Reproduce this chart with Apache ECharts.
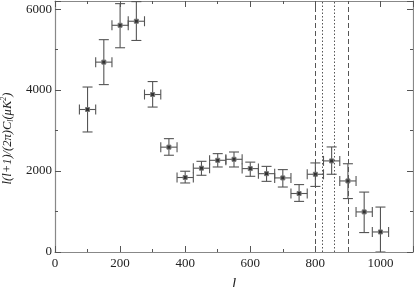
<!DOCTYPE html>
<html>
<head>
<meta charset="utf-8">
<script src="https://cdn.jsdelivr.net/npm/echarts@6/dist/echarts.min.js"></script>
<style>
  html, body { margin: 0; padding: 0; background: #fff; }
  #chart { width: 414px; height: 287px; }
</style>
</head>
<body>
<div id="chart"></div>
<script>
// multipole bins and band powers (uK^2)
var ell = [100, 150, 200, 250, 300, 350, 400, 450, 500, 550, 600, 650, 700, 750, 800, 850, 900, 950, 1000];
var power = [3520, 4690, 5600, 5700, 3890, 2590, 1840, 2070, 2265, 2290, 2060, 1935, 1830, 1445, 1920, 2250, 1755, 990, 495];
var powerLow = [2965, 4135, 5045, 5225, 3580, 2390, 1705, 1895, 2100, 2100, 1870, 1745, 1605, 1250, 1620, 1920, 1320, 480, 0];
var powerHigh = [4075, 5245, 6135, 6185, 4210, 2800, 1995, 2240, 2430, 2470, 2220, 2115, 2035, 1665, 2200, 2595, 2180, 1480, 1110];
var binHalf = [25, 25, 25, 25, 25, 25, 25, 25, 25, 25, 25, 25, 25, 25, 25, 25, 25, 25, 25];
var dashedLines = [800, 901];
var dottedLines = [821, 858];
var xTicks = [0, 200, 400, 600, 800, 1000];
var yTicks = [0, 2000, 4000, 6000];

var chart = echarts.init(document.getElementById('chart'));
var serif = 'Liberation Serif';
var axisGray = '#888';

var points = ell.map(function (l, i) {
  return [l, power[i], powerLow[i], powerHigh[i], binHalf[i]];
});

function errItem(params, api) {
  var x = api.value(0), y = api.value(1);
  var c = api.coord([x, y]);
  var lo = api.coord([x, api.value(2)]);
  var hi = api.coord([x, api.value(3)]);
  var l = api.coord([x - api.value(4), y]);
  var r = api.coord([x + api.value(4), y]);
  var cap = 5;
  var st = { stroke: '#555', lineWidth: 1.1, fill: null };
  return {
    type: 'group',
    children: [
      { type: 'line', shape: { x1: c[0], y1: lo[1], x2: c[0], y2: hi[1] }, style: st },
      { type: 'line', shape: { x1: c[0] - cap, y1: lo[1], x2: c[0] + cap, y2: lo[1] }, style: st },
      { type: 'line', shape: { x1: c[0] - cap, y1: hi[1], x2: c[0] + cap, y2: hi[1] }, style: st },
      { type: 'line', shape: { x1: l[0], y1: c[1], x2: r[0], y2: c[1] }, style: st },
      { type: 'line', shape: { x1: l[0], y1: c[1] - cap, x2: l[0], y2: c[1] + cap }, style: st },
      { type: 'line', shape: { x1: r[0], y1: c[1] - cap, x2: r[0], y2: c[1] + cap }, style: st },
      { type: 'rect', shape: { x: c[0] - 2, y: c[1] - 2, width: 4, height: 4 },
        style: { fill: '#333', stroke: '#777', lineWidth: 1 } }
    ]
  };
}

function vline(v, type) {
  return { xAxis: v, lineStyle: { type: type, color: '#555', width: 1 } };
}

function plain(v) { return String(v); }

var option = {
  animation: false,
  backgroundColor: '#fff',
  grid: { left: 55, right: 1, top: 1, bottom: 35, outerBoundsMode: 'none', containLabel: false },
  xAxis: [{
    type: 'value', min: 0, max: 1100, interval: 200,
    name: 'l', nameLocation: 'middle', nameGap: 25,
    nameTextStyle: { fontFamily: serif, fontStyle: 'italic', fontSize: 15, color: '#222' },
    axisLine: { show: true, onZero: false, lineStyle: { color: axisGray, width: 1.2 } },
    axisTick: { inside: true, length: 6, lineStyle: { color: '#555' } },
    minorTick: { show: true, splitNumber: 2, length: 3, lineStyle: { color: '#555' } },
    splitLine: { show: false },
    axisLabel: { fontFamily: serif, fontSize: 13, color: '#222', margin: 5,
      customValues: xTicks, formatter: plain }
  }, {
    type: 'value', min: 0, max: 1100, interval: 200, position: 'top',
    axisLine: { show: true, onZero: false, lineStyle: { color: axisGray, width: 1.2 } },
    axisTick: { inside: true, length: 6, lineStyle: { color: '#555' } },
    minorTick: { show: true, splitNumber: 2, length: 3, lineStyle: { color: '#555' } },
    splitLine: { show: false },
    axisLabel: { show: false }
  }],
  yAxis: [{
    type: 'value', min: 0, max: 6200, interval: 2000,
    name: '{i|l}(l+1)/(2π)C{s|l}(μK{p|2})',
    nameLocation: 'middle', nameGap: 38, nameRotate: 90,
    nameTextStyle: {
      fontFamily: serif, fontStyle: 'italic', fontSize: 12.5, color: '#222',
      padding: [0, 24, 0, 0],
      rich: {
        i: { fontFamily: serif, fontStyle: 'italic', fontSize: 12.5 },
        s: { fontFamily: serif, fontStyle: 'italic', fontSize: 8, verticalAlign: 'bottom', padding: [5, 0, 0, 0] },
        p: { fontFamily: serif, fontSize: 8, verticalAlign: 'top', padding: [0, 0, 7, 0] }
      }
    },
    axisLine: { show: true, onZero: false, lineStyle: { color: axisGray, width: 1.2 } },
    axisTick: { inside: true, length: 6, lineStyle: { color: '#555' } },
    minorTick: { show: true, splitNumber: 2, length: 3, lineStyle: { color: '#555' } },
    splitLine: { show: false },
    axisLabel: { fontFamily: serif, fontSize: 13, color: '#222', margin: 3,
      customValues: yTicks, formatter: plain }
  }, {
    type: 'value', min: 0, max: 6200, interval: 2000, position: 'right',
    axisLine: { show: true, onZero: false, lineStyle: { color: axisGray, width: 1.2 } },
    axisTick: { inside: true, length: 6, lineStyle: { color: '#555' } },
    minorTick: { show: true, splitNumber: 2, length: 3, lineStyle: { color: '#555' } },
    splitLine: { show: false },
    axisLabel: { show: false }
  }],
  series: [{
    type: 'custom',
    xAxisIndex: 0, yAxisIndex: 0,
    renderItem: errItem,
    data: points,
    clip: true,
    z: 3,
    markLine: {
      silent: true,
      symbol: ['none', 'none'],
      label: { show: false },
      data: dashedLines.map(function (v) { return vline(v, [5, 3]); })
        .concat(dottedLines.map(function (v) { return vline(v, [1.5, 2]); }))
    }
  }]
};

chart.setOption(option);
</script>
</body>
</html>
